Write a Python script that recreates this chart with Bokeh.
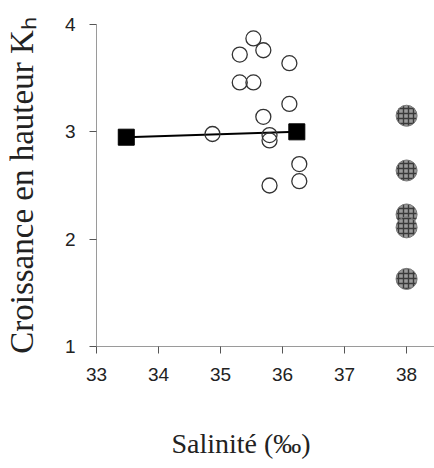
import math
from bokeh.plotting import figure
from bokeh.models import Range1d, FixedTicker
from bokeh.embed import file_html
from bokeh.resources import INLINE

# Data
square_x = [33.48, 36.23]
square_y = [2.95, 3.00]

open_x = [35.53, 35.31, 35.69, 36.11, 35.31, 35.53, 36.11, 35.69, 34.87, 35.79, 35.79, 36.27, 36.27, 35.79]
open_y = [3.87, 3.72, 3.76, 3.64, 3.46, 3.46, 3.26, 3.14, 2.98, 2.97, 2.92, 2.70, 2.54, 2.50]

filled_x = [38.0, 38.0, 38.0, 38.0, 38.0]
filled_y = [3.15, 2.64, 2.23, 2.11, 1.63]

x_ticks = [33, 34, 35, 36, 37, 38]
y_ticks = [1, 2, 3, 4]

x_title = "Salinité (‰)"
y_title = "Croissance en hauteur Kₕ"

p = figure(width=434, height=468, output_backend="svg", toolbar_location=None,
           x_range=Range1d(33, 38.45), y_range=Range1d(1, 4),
           min_border_left=96, min_border_right=0, min_border_top=24, min_border_bottom=122)
p.grid.visible = False
p.outline_line_color = None
p.background_fill_color = "white"
p.border_fill_color = "white"

for ax, ticks in ((p.xaxis, x_ticks), (p.yaxis, y_ticks)):
    ax.ticker = FixedTicker(ticks=ticks)
    ax.axis_line_color = "#9a9a9a"
    ax.axis_line_width = 1
    ax.major_tick_line_color = "#555555"
    ax.major_tick_out = 7
    ax.major_tick_in = 0
    ax.minor_tick_line_color = None
    ax.major_label_text_font = "Liberation Sans"
    ax.major_label_text_font_size = "19px"
    ax.major_label_text_color = "#222222"
    ax.major_label_standoff = 14
    ax.axis_label_text_font = "Liberation Serif"
    ax.axis_label_text_font_style = "normal"
    ax.axis_label_text_color = "#222222"

p.yaxis.axis_label = y_title
p.yaxis.axis_label_standoff = 22
p.yaxis.axis_label_text_font_size = "33px"

# trailing no-break spaces shift the centred title left, as in the reference
p.xaxis.axis_label = x_title + "\u00a0" * 7
p.xaxis.axis_label_standoff = 44
p.xaxis.axis_label_text_font_size = "28px"

p.line(square_x, square_y, line_color="black", line_width=2)
p.scatter(square_x, square_y, marker="square", size=16, fill_color="black", line_color="black")
p.scatter(open_x, open_y, marker="circle", size=15, fill_color=None, line_color="#333333", line_width=1.3)
p.scatter(filled_x, filled_y, marker="circle", size=21, fill_color="#9a9a9a", line_color="#777777",
          hatch_pattern="cross", hatch_color="#3a3a3a", hatch_scale=5, hatch_weight=1.4)

open("out.html", "w").write(file_html(p, INLINE))
